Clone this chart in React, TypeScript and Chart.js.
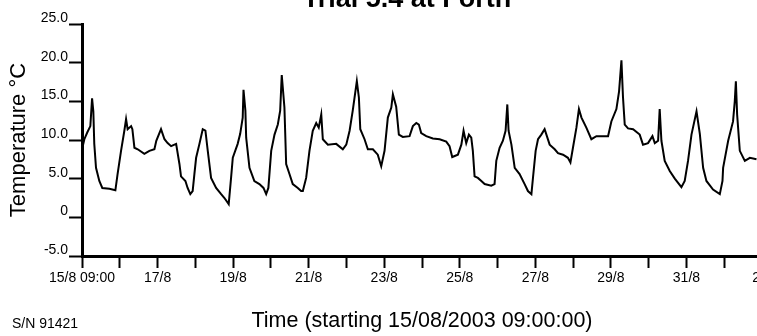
import React, { useEffect, useRef } from 'react';
import { Chart, registerables } from 'chart.js';

Chart.register(...registerables);

const TITLE = 'Trial 5.4 at Forth';
const SERIAL = 'S/N 91421';
const X_TITLE = 'Time (starting 15/08/2003 09:00:00)';
const Y_TITLE = 'Temperature °C';

// hours since 15/08/2003 09:00
const hours = [
  0, 1.5, 3.4, 5.3, 6.4, 7.2, 7.8, 8.9, 11.0, 12.9, 17.4, 21.2, 22.6, 24.8, 26.9, 28.0, 29.0, 31.2, 32.0, 33.3,
  35.4, 39.6, 42.8, 46.0, 47.2, 50.2, 52.4, 54.4, 56.6, 59.8, 61.9, 62.9, 65.7, 67.1, 68.8, 70.3, 71.4, 72.5, 74.6, 76.7,
  78.4, 79.9, 82.0, 85.2, 88.4, 90.5, 93.2, 94.7, 95.8, 98.9, 100.5, 102.1, 102.6, 103.8, 104.3, 106.4, 109.5, 112.7, 115.3, 117.0,
  118.4, 120.2, 122.3, 124.4, 125.9, 126.9, 128.6, 129.7, 131.8, 133.9, 137.1, 139.2, 140.3, 142.4, 144.5, 146.6, 148.8, 150.4, 152.0, 153.0,
  156.2, 161.5, 165.7, 167.9, 170.0, 172.0, 174.6, 175.9, 176.8, 179.5, 181.6, 184.8, 187.9, 190.1, 192.2, 194.3, 196.5, 197.5, 199.6, 201.3,
  203.8, 208.1, 210.2, 212.4, 214.0, 215.5, 218.7, 222.9, 227.2, 231.4, 233.5, 235.2, 238.8, 241.0, 242.4, 244.1, 245.8, 247.3, 248.3, 249.4,
  251.5, 253.7, 255.8, 260.0, 262.1, 263.2, 265.3, 267.4, 269.1, 270.2, 271.0, 272.8, 274.9, 278.0, 281.2, 283.3, 285.5, 286.5, 288.2, 289.7,
  291.8, 293.9, 297.1, 300.3, 302.4, 305.6, 308.7, 310.3, 311.9, 314.1, 315.7, 317.3, 320.4, 323.6, 326.8, 334.2, 336.3, 339.5, 341.2, 342.7,
  343.7, 344.8, 346.9, 350.1, 354.3, 356.4, 359.6, 362.4, 363.9, 366.0, 367.0, 368.1, 370.2, 373.4, 376.6, 380.8, 382.9, 385.0, 387.2, 390.4,
  392.5, 394.6, 396.7, 400.9, 405.2, 406.9, 407.3, 410.5, 413.6, 414.7, 415.4, 416.2, 417.9, 421.1, 424.3, 428.5,
];

// temperature, °C
const temps = [
  8.8, 10.1, 11.0, 11.8, 15.4, 13.7, 9.5, 6.4, 4.7, 3.8, 3.7, 3.5, 5.6, 8.6, 11.2, 12.7, 11.4, 11.8, 11.4, 9.0,
  8.8, 8.2, 8.6, 8.8, 9.9, 11.4, 10.1, 9.6, 9.2, 9.5, 6.9, 5.3, 4.7, 3.8, 3.0, 3.4, 5.6, 7.7, 9.5, 11.4,
  11.2, 8.6, 5.1, 3.8, 3.0, 2.5, 1.7, 5.1, 7.7, 9.5, 10.8, 12.9, 16.5, 13.8, 10.3, 6.4, 4.7, 4.3, 3.8, 3.0,
  3.8, 8.6, 10.7, 12.0, 13.8, 18.4, 14.2, 6.9, 5.6, 4.3, 3.8, 3.4, 3.4, 5.1, 8.6, 11.2, 12.2, 11.6, 13.3, 10.1,
  9.4, 9.5, 8.8, 9.4, 11.2, 13.8, 17.6, 15.5, 11.4, 10.1, 8.8, 8.8, 8.1, 6.6, 8.6, 12.9, 14.2, 15.9, 14.3, 10.7,
  10.4, 10.5, 11.8, 12.2, 12.0, 10.9, 10.5, 10.2, 10.1, 9.8, 9.2, 7.8, 8.1, 9.4, 11.2, 9.6, 10.7, 10.3, 8.6, 5.3,
  5.1, 4.7, 4.3, 4.1, 4.3, 7.3, 9.0, 9.9, 11.2, 14.6, 11.2, 9.4, 6.4, 5.6, 4.3, 3.4, 3.0, 5.1, 8.6, 10.1,
  10.7, 11.4, 9.4, 8.8, 8.3, 8.1, 7.7, 7.1, 9.0, 11.6, 14.0, 12.9, 11.6, 10.1, 10.5, 10.5, 12.4, 14.0, 16.3, 20.3,
  15.5, 12.0, 11.5, 11.4, 10.7, 9.4, 9.6, 10.5, 9.6, 9.9, 14.0, 9.9, 7.3, 6.0, 5.0, 3.9, 4.7, 7.3, 10.7, 13.7,
  10.8, 6.4, 4.7, 3.6, 3.0, 4.7, 6.4, 9.9, 12.4, 15.0, 17.6, 13.3, 8.6, 7.3, 7.7, 7.5,
];

// one tick per day (every 24 h), labels every second day
const xTickLabels = [
  '15/8 09:00', '', '17/8', '', '19/8', '', '21/8', '', '23/8', '', '25/8', '', '27/8', '', '29/8', '', '31/8', '', '2/9',
];
const yTickValues = [-5, 0, 5, 10, 15, 20, 25];
const yTickLabels = ['-5.0', '0', '5.0', '10.0', '15.0', '20.0', '25.0'];

const FONT = '"Liberation Sans", Arial, Helvetica, sans-serif';

const annotate = {
  id: 'annotate',
  afterDraw(chart: any) {
    const ctx = chart.ctx;
    ctx.save();
    ctx.fillStyle = '#000';
    ctx.textBaseline = 'alphabetic';
    ctx.font = 'bold 27px ' + FONT;
    ctx.textAlign = 'center';
    ctx.fillText(TITLE, 407, 7);
    ctx.font = '14px ' + FONT;
    ctx.textAlign = 'left';
    ctx.fillText(SERIAL, 12, 328);
    ctx.restore();
  },
};

export default function App() {
  const ref = useRef<HTMLCanvasElement | null>(null);

  useEffect(() => {
    if (!ref.current) return;
    const points = hours.map((h, i) => ({ x: h, y: temps[i] }));
    const chart = new Chart(ref.current, {
      type: 'line',
      data: {
        datasets: [
          {
            data: points,
            borderColor: '#000',
            borderWidth: 2,
            pointRadius: 0,
            tension: 0,
            fill: false,
          },
        ],
      },
      options: {
        responsive: false,
        animation: false,
        devicePixelRatio: 1,
        layout: { padding: { top: 24, right: 20, left: 0, bottom: 0 } },
        plugins: {
          legend: { display: false },
          tooltip: { enabled: false },
          title: { display: false },
        },
        scales: {
          x: {
            type: 'linear',
            min: 0,
            max: (xTickLabels.length - 1) * 24,
            afterFit: (s: any) => {
              s.height = 80;
            },
            ticks: {
              stepSize: 24,
              autoSkip: false,
              maxRotation: 0,
              minRotation: 0,
              padding: 2,
              color: '#000',
              font: { family: FONT, size: 14 },
              callback: (v: any) => xTickLabels[Math.round(Number(v) / 24)] ?? '',
            },
            grid: {
              display: true,
              drawOnChartArea: false,
              drawTicks: true,
              tickLength: 12,
              tickWidth: 2,
              tickColor: '#000',
            },
            border: { display: true, color: '#000', width: 3 },
            title: {
              display: true,
              text: X_TITLE,
              color: '#000',
              font: { family: FONT, size: 21.5 },
              padding: { top: 0, bottom: 2 },
            },
          },
          y: {
            type: 'linear',
            min: yTickValues[0],
            max: yTickValues[yTickValues.length - 1],
            afterFit: (s: any) => {
              s.width = 82;
            },
            ticks: {
              stepSize: 5,
              padding: 1,
              labelOffset: -6,
              color: '#000',
              font: { family: FONT, size: 14 },
              callback: (v: any) => {
                const i = yTickValues.indexOf(Number(v));
                return i >= 0 ? yTickLabels[i] : '';
              },
            },
            grid: {
              display: true,
              drawOnChartArea: false,
              drawTicks: true,
              tickLength: 13,
              tickWidth: 2,
              tickColor: '#000',
            },
            border: { display: true, color: '#000', width: 3 },
            title: {
              display: true,
              text: Y_TITLE,
              color: '#000',
              font: { family: FONT, size: 22 },
              padding: { top: 6, bottom: 0 },
            },
          },
        },
      },
      plugins: [annotate],
    } as any);
    return () => chart.destroy();
  }, []);

  return (
    <div
      style={{
        position: 'fixed',
        left: 0,
        top: 0,
        width: 757,
        height: 336,
        overflow: 'hidden',
        background: '#fff',
      }}
    >
      <canvas ref={ref} width={782} height={336} style={{ width: 782, height: 336, display: 'block' }} />
    </div>
  );
}
